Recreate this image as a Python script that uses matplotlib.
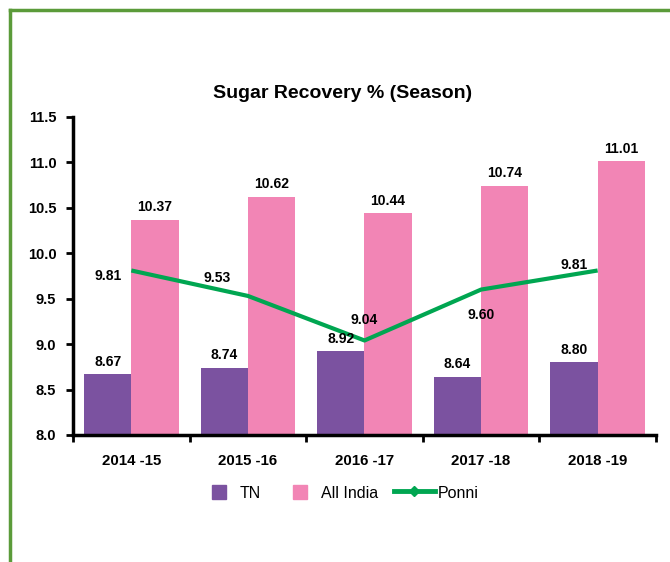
import numpy as np
import matplotlib
matplotlib.use("Agg")
import matplotlib.pyplot as plt
from matplotlib.lines import Line2D
from matplotlib.patches import Patch, Rectangle
from matplotlib.legend_handler import HandlerPatch

plt.rcParams['font.family'] = ['Liberation Sans', 'DejaVu Sans']

seasons = ["2014 -15", "2015 -16", "2016 -17", "2017 -18", "2018 -19"]
tn = [8.67, 8.74, 8.92, 8.64, 8.80]
all_india = [10.37, 10.62, 10.44, 10.74, 11.01]
ponni = [9.81, 9.53, 9.04, 9.60, 9.81]

purple = "#7B52A0"
pink = "#F285B5"
green = "#00A651"


def square_patch(legend, orig_handle, xdescent, ydescent, width, height, fontsize):
    # small square, leaving room to the right like the excel legend
    size = height
    return Rectangle((width - size - 8 - xdescent, -ydescent), size, size)


fig = plt.figure(figsize=(6.7, 5.62), dpi=100)
ax = fig.add_axes([0.109, 0.226, 0.87, 0.566])

x = np.arange(len(seasons))
w = 0.405

ax.bar(x - w / 2, np.array(tn) - 8, w, bottom=8, color=purple)
ax.bar(x + w / 2, np.array(all_india) - 8, w, bottom=8, color=pink)
ax.plot(x, ponni, color=green, lw=3, solid_capstyle="butt")

for i in range(len(seasons)):
    ax.annotate(f"{tn[i]:.2f}", (x[i] - w / 2, tn[i]), xytext=(0, 4),
                textcoords="offset points", ha="center", va="bottom",
                fontsize=10, fontweight="bold")
    ax.annotate(f"{all_india[i]:.2f}", (x[i] + w / 2, all_india[i]), xytext=(0, 4),
                textcoords="offset points", ha="center", va="bottom",
                fontsize=10, fontweight="bold")

# label offsets for the Ponni points (points)
ponni_offsets = [(-17, -4), (-22, 13), (0, 15), (0, -18), (-17, 4)]
for i in range(len(seasons)):
    ax.annotate(f"{ponni[i]:.2f}", (x[i], ponni[i]), xytext=ponni_offsets[i],
                textcoords="offset points", ha="center", va="center",
                fontsize=10, fontweight="bold")

ax.set_xlim(-0.5, len(seasons) - 0.5)
ax.set_ylim(8.0, 11.5)
yt = np.arange(8.0, 11.51, 0.5)
ax.set_yticks(yt)
ax.set_yticklabels([f"{v:.1f}" for v in yt], fontsize=10.5, fontweight="bold")
ax.set_xticks(x)
ax.set_xticklabels(seasons, fontsize=10.8, fontweight="bold")
ax.set_xticks(np.arange(-0.5, len(seasons)), minor=True)
ax.tick_params(axis="x", which="major", length=0, pad=14)
ax.tick_params(axis="x", which="minor", length=5, width=2)
ax.tick_params(axis="y", length=5, width=2, pad=7)

for s in ["top", "right"]:
    ax.spines[s].set_visible(False)
for s in ["left", "bottom"]:
    ax.spines[s].set_linewidth(2.5)

fig.text(0.511, 0.833, "Sugar Recovery % (Season)", ha="center", va="center",
         fontsize=14, fontweight="bold")

handles = [Patch(color=purple, label="TN"),
           Patch(color=pink, label="All India"),
           Line2D([0], [0], color=green, lw=3.5, marker="D", markersize=5, label="Ponni")]
fig.legend(handles=handles, loc="center", bbox_to_anchor=(0.503, 0.123), ncol=3,
           frameon=False, fontsize=11.5, handlelength=2.6, handleheight=1.0,
           columnspacing=1.0, handletextpad=0.15,
           handler_map={Patch: HandlerPatch(patch_func=square_patch)})

# green frame lines at top and left
fig.add_artist(Line2D([0.0142, 0.0142], [0.0, 0.982], color="#5B9B3A", lw=2.5,
                      transform=fig.transFigure))
fig.add_artist(Line2D([0.0142, 1.0], [0.982, 0.982], color="#5B9B3A", lw=2.5,
                      transform=fig.transFigure))

fig.savefig("out.png", dpi=100)
